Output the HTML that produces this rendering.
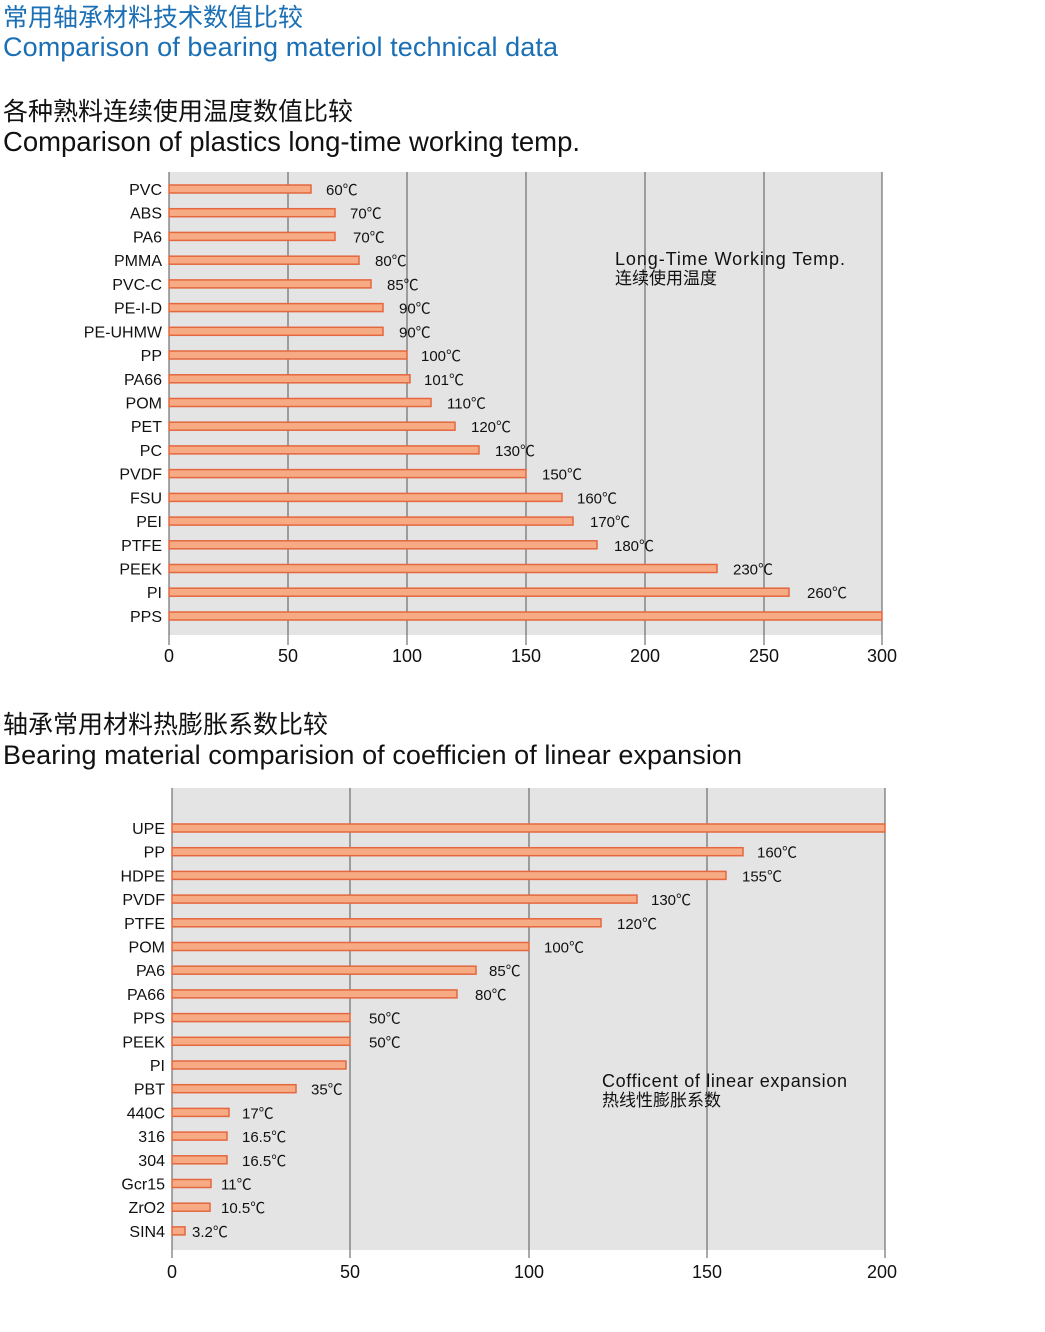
<!DOCTYPE html>
<html><head><meta charset="utf-8"><style>
body{margin:0;background:#fff;}
svg{display:block;font-family:"Liberation Sans","Noto Sans CJK SC",sans-serif;}
.l{font-size:16px;fill:#111;text-anchor:end}
.v{font-size:15px;fill:#111}
.t{font-size:18px;fill:#111;text-anchor:middle}
.b{fill:#f6ab84;stroke:#e4673f;stroke-width:1.5}
.g{stroke:#555;stroke-width:1}
</style></head><body>
<svg width="1045" height="1332" viewBox="0 0 1045 1332">
<text x="3" y="26" font-size="25" fill="#1a6fb5">常用轴承材料技术数值比较</text>
<text x="3" y="56" font-size="27" fill="#1a6fb5" textLength="555">Comparison of bearing materiol technical data</text>
<text x="3" y="120" font-size="25" fill="#111">各种熟料连续使用温度数值比较</text>
<text x="3" y="151" font-size="27.5" fill="#111" textLength="577">Comparison of plastics long-time working temp.</text>

<rect x="169" y="172" width="713" height="463" fill="#e4e4e4"/>
<g class="g"><line x1="169" y1="172" x2="169" y2="645"/><line x1="288" y1="172" x2="288" y2="645"/><line x1="407" y1="172" x2="407" y2="645"/><line x1="526" y1="172" x2="526" y2="645"/><line x1="645" y1="172" x2="645" y2="645"/><line x1="764" y1="172" x2="764" y2="645"/><line x1="882" y1="172" x2="882" y2="645"/></g>
<g class="t"><text x="169" y="662" class="t">0</text><text x="288" y="662" class="t">50</text><text x="407" y="662" class="t">100</text><text x="526" y="662" class="t">150</text><text x="645" y="662" class="t">200</text><text x="764" y="662" class="t">250</text><text x="882" y="662" class="t">300</text></g>
<text x="615" y="265" font-size="18" fill="#111" textLength="230">Long-Time Working Temp.</text>
<text x="615" y="284" font-size="17" fill="#111">连续使用温度</text>
<g>
<rect class="b" x="169" y="185" width="142" height="8"/><text class="l" x="162" y="195">PVC</text><text class="v" x="326" y="195">60℃</text>
<rect class="b" x="169" y="208.7" width="166" height="8"/><text class="l" x="162" y="218.7">ABS</text><text class="v" x="350" y="218.7">70℃</text>
<rect class="b" x="169" y="232.4" width="166" height="8"/><text class="l" x="162" y="242.4">PA6</text><text class="v" x="353" y="242.4">70℃</text>
<rect class="b" x="169" y="256.2" width="190" height="8"/><text class="l" x="162" y="266.2">PMMA</text><text class="v" x="375" y="266.2">80℃</text>
<rect class="b" x="169" y="279.9" width="202" height="8"/><text class="l" x="162" y="289.9">PVC-C</text><text class="v" x="387" y="289.9">85℃</text>
<rect class="b" x="169" y="303.6" width="214" height="8"/><text class="l" x="162" y="313.6">PE-I-D</text><text class="v" x="399" y="313.6">90℃</text>
<rect class="b" x="169" y="327.3" width="214" height="8"/><text class="l" x="162" y="337.3">PE-UHMW</text><text class="v" x="399" y="337.3">90℃</text>
<rect class="b" x="169" y="351" width="238" height="8"/><text class="l" x="162" y="361">PP</text><text class="v" x="421" y="361">100℃</text>
<rect class="b" x="169" y="374.8" width="241" height="8"/><text class="l" x="162" y="384.8">PA66</text><text class="v" x="424" y="384.8">101℃</text>
<rect class="b" x="169" y="398.5" width="262" height="8"/><text class="l" x="162" y="408.5">POM</text><text class="v" x="447" y="408.5">110℃</text>
<rect class="b" x="169" y="422.2" width="286" height="8"/><text class="l" x="162" y="432.2">PET</text><text class="v" x="471" y="432.2">120℃</text>
<rect class="b" x="169" y="445.9" width="310" height="8"/><text class="l" x="162" y="455.9">PC</text><text class="v" x="495" y="455.9">130℃</text>
<rect class="b" x="169" y="469.6" width="357" height="8"/><text class="l" x="162" y="479.6">PVDF</text><text class="v" x="542" y="479.6">150℃</text>
<rect class="b" x="169" y="493.4" width="393" height="8"/><text class="l" x="162" y="503.4">FSU</text><text class="v" x="577" y="503.4">160℃</text>
<rect class="b" x="169" y="517.1" width="404" height="8"/><text class="l" x="162" y="527.1">PEI</text><text class="v" x="590" y="527.1">170℃</text>
<rect class="b" x="169" y="540.8" width="428" height="8"/><text class="l" x="162" y="550.8">PTFE</text><text class="v" x="614" y="550.8">180℃</text>
<rect class="b" x="169" y="564.5" width="548" height="8"/><text class="l" x="162" y="574.5">PEEK</text><text class="v" x="733" y="574.5">230℃</text>
<rect class="b" x="169" y="588.2" width="620" height="8"/><text class="l" x="162" y="598.2">PI</text><text class="v" x="807" y="598.2">260℃</text>
<rect class="b" x="169" y="612" width="713" height="8"/><text class="l" x="162" y="622">PPS</text>
</g>

<text x="3" y="733" font-size="25" fill="#111">轴承常用材料热膨胀系数比较</text>
<text x="3" y="764" font-size="27" fill="#111" textLength="739">Bearing material comparision of coefficien of linear expansion</text>

<rect x="172" y="788" width="713" height="462" fill="#e4e4e4"/>
<g class="g"><line x1="172" y1="788" x2="172" y2="1258"/><line x1="350" y1="788" x2="350" y2="1258"/><line x1="529" y1="788" x2="529" y2="1258"/><line x1="707" y1="788" x2="707" y2="1258"/><line x1="885" y1="788" x2="885" y2="1258"/></g>
<text x="172" y="1278" class="t">0</text><text x="350" y="1278" class="t">50</text><text x="529" y="1278" class="t">100</text><text x="707" y="1278" class="t">150</text><text x="882" y="1278" class="t">200</text>
<text x="602" y="1087" font-size="18" fill="#111" textLength="245">Cofficent of linear expansion</text>
<text x="602" y="1106" font-size="17" fill="#111">热线性膨胀系数</text>
<g>
<rect class="b" x="172" y="824" width="713" height="8"/><text class="l" x="165" y="834">UPE</text>
<rect class="b" x="172" y="847.7" width="571" height="8"/><text class="l" x="165" y="857.7">PP</text><text class="v" x="757" y="857.7">160℃</text>
<rect class="b" x="172" y="871.4" width="554" height="8"/><text class="l" x="165" y="881.4">HDPE</text><text class="v" x="742" y="881.4">155℃</text>
<rect class="b" x="172" y="895.1" width="465" height="8"/><text class="l" x="165" y="905.1">PVDF</text><text class="v" x="651" y="905.1">130℃</text>
<rect class="b" x="172" y="918.8" width="429" height="8"/><text class="l" x="165" y="928.8">PTFE</text><text class="v" x="617" y="928.8">120℃</text>
<rect class="b" x="172" y="942.5" width="357" height="8"/><text class="l" x="165" y="952.5">POM</text><text class="v" x="544" y="952.5">100℃</text>
<rect class="b" x="172" y="966.2" width="304" height="8"/><text class="l" x="165" y="976.2">PA6</text><text class="v" x="489" y="976.2">85℃</text>
<rect class="b" x="172" y="989.9" width="285" height="8"/><text class="l" x="165" y="999.9">PA66</text><text class="v" x="475" y="999.9">80℃</text>
<rect class="b" x="172" y="1013.6" width="178" height="8"/><text class="l" x="165" y="1023.6">PPS</text><text class="v" x="369" y="1023.6">50℃</text>
<rect class="b" x="172" y="1037.3" width="178" height="8"/><text class="l" x="165" y="1047.3">PEEK</text><text class="v" x="369" y="1047.3">50℃</text>
<rect class="b" x="172" y="1061" width="174" height="8"/><text class="l" x="165" y="1071">PI</text>
<rect class="b" x="172" y="1084.7" width="124" height="8"/><text class="l" x="165" y="1094.7">PBT</text><text class="v" x="311" y="1094.7">35℃</text>
<rect class="b" x="172" y="1108.4" width="57" height="8"/><text class="l" x="165" y="1118.4">440C</text><text class="v" x="242" y="1118.4">17℃</text>
<rect class="b" x="172" y="1132.1" width="55" height="8"/><text class="l" x="165" y="1142.1">316</text><text class="v" x="242" y="1142.1">16.5℃</text>
<rect class="b" x="172" y="1155.8" width="55" height="8"/><text class="l" x="165" y="1165.8">304</text><text class="v" x="242" y="1165.8">16.5℃</text>
<rect class="b" x="172" y="1179.5" width="39" height="8"/><text class="l" x="165" y="1189.5">Gcr15</text><text class="v" x="221" y="1189.5">11℃</text>
<rect class="b" x="172" y="1203.2" width="38" height="8"/><text class="l" x="165" y="1213.2">ZrO2</text><text class="v" x="221" y="1213.2">10.5℃</text>
<rect class="b" x="172" y="1226.9" width="13" height="8"/><text class="l" x="165" y="1236.9">SIN4</text><text class="v" x="192" y="1236.9">3.2℃</text>
</g>
</svg>
</body></html>
